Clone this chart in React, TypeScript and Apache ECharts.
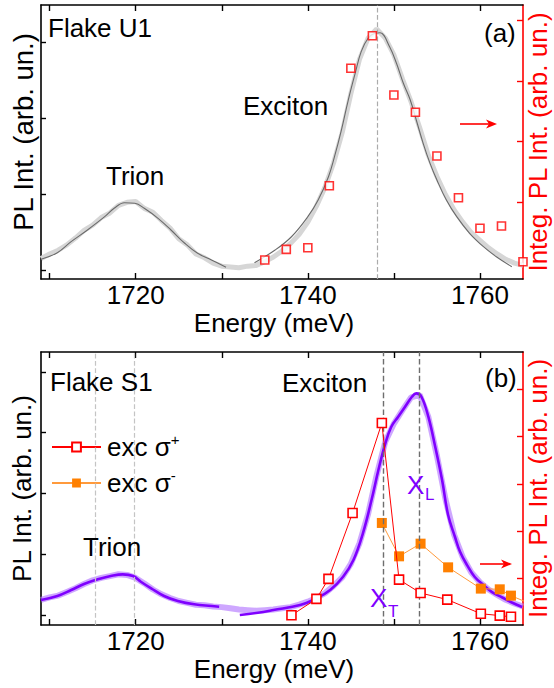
import React, { useEffect, useRef } from 'react';
import * as echarts from 'echarts';

// ---------- Data ----------
const energyGrid = [
  1709, 1710, 1711, 1712, 1713, 1714, 1715, 1716, 1717, 1718, 1719, 1720, 1721, 1722, 1723, 1724, 1725, 1726, 1727,
  1728, 1729, 1730, 1731, 1732, 1733, 1734, 1735, 1736, 1737, 1738, 1739, 1740, 1741, 1742, 1743, 1744, 1745, 1746,
  1747, 1748, 1749, 1750, 1751, 1752, 1753, 1754, 1755, 1756, 1757, 1758, 1759, 1760, 1761, 1762, 1763, 1764, 1765,
];

// Panel (a) – Flake U1 measured PL (grey band)
const u1Measured = [
  0.16, 0.22, 0.27, 0.34, 0.43, 0.53, 0.6, 0.7, 0.76, 0.86, 0.9, 0.91, 0.82, 0.77, 0.66, 0.56, 0.42, 0.34, 0.22,
  0.17, 0.1, 0.06, 0.05, 0.04, 0.06, 0.07, 0.12, 0.18, 0.26, 0.36, 0.48, 0.64, 0.85, 1.1, 1.42, 1.82, 2.33, 2.78,
  3.06, 3.18, 3.06, 2.84, 2.52, 2.22, 1.88, 1.52, 1.24, 1.0, 0.8, 0.64, 0.5, 0.4, 0.3, 0.22, 0.15, 0.1, 0.07,
];

// Panel (a) fits
const u1TrionFitE = [1709.0, 1710.9, 1712.5, 1714.4, 1716.4, 1717.5, 1718.7, 1719.9, 1721.0, 1722.6, 1724.1, 1725.7, 1727.2, 1728.8, 1730.5];
const u1TrionFitV = [0.15, 0.237, 0.382, 0.536, 0.711, 0.821, 0.895, 0.887, 0.821, 0.689, 0.536, 0.361, 0.229, 0.141, 0.045];
const u1ExcFitE = [
  1733.8, 1736.2, 1738.1, 1740.0, 1741.2, 1742.4, 1743.1, 1743.9, 1744.7, 1745.5, 1746.2, 1747.0, 1747.8, 1748.4,
  1749.5, 1750.3, 1751.1, 1751.9, 1752.6, 1753.4, 1754.2, 1755.0, 1756.1, 1757.3, 1758.8, 1760.4, 1761.9, 1763.7,
];
const u1ExcFitV = [
  0.105, 0.272, 0.447, 0.711, 0.93, 1.237, 1.5, 1.851, 2.246, 2.597, 2.882, 3.058, 3.124, 3.13, 2.947, 2.729, 2.466,
  2.246, 1.983, 1.676, 1.413, 1.193, 0.93, 0.711, 0.492, 0.316, 0.184, 0.053,
];

// Panel (a) integrated PL (right axis)
const u1IntE = [1735, 1737.5, 1740, 1742.5, 1745, 1747.5, 1750, 1752.5, 1755, 1757.5, 1760, 1762.5, 1765];
const u1IntV = [0.054, 0.23, 0.257, 1.276, 3.207, 3.743, 2.768, 2.484, 1.765, 1.079, 0.576, 0.613, 0.026];
const u1Marker = [1748.1];

// Panel (b) – Flake S1 measured PL (light purple band)
const s1Measured = [
  0.25, 0.29, 0.32, 0.38, 0.44, 0.51, 0.57, 0.61, 0.64, 0.67, 0.66, 0.61, 0.52, 0.42, 0.34, 0.28, 0.23, 0.2, 0.17,
  0.16, 0.14, 0.13, 0.11, 0.09, 0.08, 0.07, 0.08, 0.09, 0.11, 0.13, 0.17, 0.22, 0.28, 0.36, 0.48, 0.62, 0.84, 1.18,
  1.66, 2.3, 2.85, 3.15, 3.37, 3.58, 3.62, 3.26, 2.62, 1.9, 1.32, 0.95, 0.7, 0.54, 0.42, 0.33, 0.25, 0.19, 0.14,
];

// Panel (b) fits
const s1TrionFitE = [1709.0, 1710.9, 1712.5, 1714.0, 1715.6, 1717.1, 1718.5, 1719.7, 1720.6, 1721.8, 1723.3, 1724.9, 1726.8, 1729.7];
const s1TrionFitV = [0.247, 0.3125, 0.411, 0.51, 0.587, 0.641, 0.669, 0.641, 0.548, 0.439, 0.3125, 0.23, 0.176, 0.137];
const s1ExcFitE = [
  1732.1, 1734.2, 1736.0, 1739.1, 1741.0, 1742.6, 1744.1, 1745.3, 1746.4, 1747.4, 1748.2, 1749.0, 1749.7, 1750.5,
  1751.3, 1752.1, 1752.6, 1753.2, 1754.0, 1754.8, 1755.6, 1756.3, 1757.1, 1757.7, 1758.5, 1759.4, 1760.4, 1761.4,
  1762.6, 1763.7, 1764.9,
];
const s1ExcFitV = [
  0.0, 0.038, 0.082, 0.164, 0.275, 0.411, 0.63, 0.905, 1.344, 1.891, 2.385, 2.82, 3.097, 3.262, 3.426, 3.59, 3.646,
  3.59, 3.262, 2.768, 2.22, 1.645, 1.283, 1.036, 0.822, 0.625, 0.493, 0.378, 0.288, 0.206, 0.132,
];

// Panel (b) integrated PL for the two excitation helicities (right axis)
const sigmaPlusE = [1738.1, 1741.0, 1742.4, 1745.2, 1748.6, 1750.6, 1753.1, 1756.2, 1760.1, 1762.3, 1763.6];
const sigmaPlusV = [0.206, 0.554, 0.979, 2.38, 4.29, 0.964, 0.68, 0.54, 0.24, 0.2, 0.175];
const sigmaMinusE = [1748.6, 1750.6, 1753.1, 1756.3, 1760.1, 1762.3, 1763.6, 1766.5];
const sigmaMinusV = [2.168, 1.459, 1.728, 1.225, 0.773, 0.758, 0.624, 0.4];
const s1TrionMarkers = [1715.3, 1719.8];
const s1ExcMarkers = [1748.8, 1752.9];

const xTicks = [1710, 1720, 1730, 1740, 1750, 1760];
const xLabels = [1720, 1740, 1760];

// ---------- Styling helpers ----------
const FONT = '"Liberation Sans", Arial, Helvetica, sans-serif';
const RED = '#ff0000';
const ORANGE = '#ff8000';
const PURPLE = '#7f00ff';

const zip = (xs: number[], ys: number[]) => xs.map((x, i) => [x, ys[i]]);

function xAxis(gridIndex: number, position: 'top' | 'bottom', labelled: boolean, margin: number, nameGap: number) {
  return {
    type: 'value',
    gridIndex,
    position,
    min: 1709,
    max: 1765,
    splitLine: { show: false },
    axisLine: { show: true, onZero: false, lineStyle: { color: '#000', width: 1.6 } },
    axisTick: { show: true, inside: true, length: 6, customValues: xTicks, lineStyle: { color: '#000', width: 1.4 } },
    axisLabel: {
      show: labelled,
      customValues: xLabels,
      formatter: (v: number) => String(v),
      color: '#000',
      fontSize: 26,
      lineHeight: 22,
      fontFamily: FONT,
      margin,
    },
    name: labelled ? 'Energy (meV)' : '',
    nameLocation: 'middle',
    nameGap,
    nameTextStyle: { color: '#000', fontSize: 26, lineHeight: 22, fontFamily: FONT, padding: [0, 16, 0, 0] },
  };
}

function yAxis(
  gridIndex: number,
  position: 'left' | 'right',
  min: number,
  max: number,
  ticks: number[],
  name: string,
  color: string,
  nameSize: number,
  nameGap: number,
  namePadding: number[] = [0, 0, 0, 0],
  nameLineHeight?: number,
) {
  return {
    type: 'value',
    gridIndex,
    position,
    min,
    max,
    splitLine: { show: false },
    axisLine: { show: true, onZero: false, lineStyle: { color, width: 1.6 } },
    axisTick: { show: true, inside: true, length: position === 'left' ? 5 : 6, customValues: ticks, lineStyle: { color, width: 1.4 } },
    axisLabel: { show: false, customValues: ticks },
    name,
    nameLocation: 'middle',
    nameRotate: 90,
    nameGap,
    nameTextStyle: { color, fontSize: nameSize, fontFamily: FONT, padding: namePadding, lineHeight: nameLineHeight },
  };
}

function vMarks(values: number[], color: string, width: number) {
  return {
    silent: true,
    symbol: 'none',
    label: { show: false },
    lineStyle: { type: 'dashed', color, width },
    data: values.map((v) => ({ xAxis: v })),
  };
}

function txt(text: string, x: number, y: number, fill = '#000', size = 26) {
  return {
    type: 'text',
    x,
    y,
    z: 100,
    style: { text, fill, fontSize: size, fontFamily: FONT, verticalAlign: 'middle', align: 'left' },
  };
}

function arrow(x1: number, x2: number, y: number) {
  return [
    { type: 'line', z: 100, shape: { x1, y1: y, x2: x2 - 6, y2: y }, style: { stroke: RED, lineWidth: 1.6 } },
    {
      type: 'polygon',
      z: 100,
      shape: { points: [[x2, y], [x2 - 11, y - 4.5], [x2 - 8, y], [x2 - 11, y + 4.5]] },
      style: { fill: RED },
    },
  ];
}

const option = {
  animation: false,
  backgroundColor: '#fff',
  textStyle: { fontFamily: FONT },
  grid: [
    { left: 41, top: 5, width: 482, height: 274, containLabel: false, outerBoundsMode: 'none' },
    { left: 41, top: 352, width: 482, height: 273, containLabel: false, outerBoundsMode: 'none' },
  ],
  xAxis: [
    xAxis(0, 'bottom', true, 5, 33),
    xAxis(0, 'top', false, 5, 0),
    xAxis(1, 'bottom', true, 5, 32.5),
    xAxis(1, 'top', false, 5, 0),
  ],
  yAxis: [
    yAxis(0, 'left', -0.109, 3.496, [0, 1, 2, 3], 'PL Int. (arb. un.)', '#000', 27.5, 4, [0, 0, 0, 20]),
    yAxis(0, 'right', -0.258, 4.248, [0, 1, 2, 3, 4], 'Integ. PL Int. (arb. un.)', RED, 26, 4, [0, 0, 0, 0], 22),
    yAxis(1, 'left', -0.164, 4.326, [0, 1, 2, 3, 4], 'PL Int. (arb. un.)', '#000', 26, 6),
    yAxis(1, 'right', 0, 5.8, [1, 2, 3, 4, 5], 'Integ. PL Int. (arb. un.)', RED, 26, 4, [0, 0, 0, 0], 22),
  ],
  legend: {
    orient: 'vertical',
    left: 46,
    top: 427,
    itemWidth: 49,
    itemHeight: 11,
    itemGap: 8,
    selectedMode: false,
    data: ['exc σ+', 'exc σ-'],
    formatter: (name: string) => (name === 'exc σ+' ? '{m|exc σ}{p|+}' : '{m|exc σ}{p|-}'),
    textStyle: {
      fontSize: 26,
      fontFamily: FONT,
      color: '#000',
      rich: {
        m: { fontSize: 26, fontFamily: FONT, color: '#000', lineHeight: 30, padding: [0, 0, 0, 1] },
        p: { fontSize: 15, fontFamily: FONT, color: '#000', lineHeight: 15, verticalAlign: 'top' },
      },
    },
  },
  series: [
    // ---- Panel (a) ----
    {
      type: 'line',
      xAxisIndex: 0,
      yAxisIndex: 0,
      data: zip(energyGrid, u1Measured),
      showSymbol: false,
      lineStyle: { color: '#d6d6d6', width: 5 },
      z: 1,
      markLine: vMarks(u1Marker, '#ababab', 1.2),
    },
    {
      type: 'line',
      xAxisIndex: 0,
      yAxisIndex: 0,
      data: zip(u1TrionFitE, u1TrionFitV),
      smooth: 0.4,
      showSymbol: false,
      lineStyle: { color: '#6a6a6a', width: 1.1 },
      z: 2,
    },
    {
      type: 'line',
      xAxisIndex: 0,
      yAxisIndex: 0,
      data: zip(u1ExcFitE, u1ExcFitV),
      smooth: 0.4,
      showSymbol: false,
      lineStyle: { color: '#6a6a6a', width: 1.1 },
      z: 2,
    },
    {
      type: 'scatter',
      xAxisIndex: 0,
      yAxisIndex: 1,
      data: zip(u1IntE, u1IntV),
      symbol: 'rect',
      symbolSize: 8,
      itemStyle: { color: '#fff', borderColor: RED, borderWidth: 1.6 },
      z: 5,
    },
    // ---- Panel (b) ----
    {
      type: 'line',
      xAxisIndex: 2,
      yAxisIndex: 2,
      data: zip(energyGrid, s1Measured),
      showSymbol: false,
      lineStyle: { color: 'rgba(185,130,255,0.7)', width: 6 },
      z: 1,
      markLine: vMarks(s1TrionMarkers, '#c4c4c4', 1.2),
    },
    {
      type: 'line',
      xAxisIndex: 2,
      yAxisIndex: 2,
      data: zip(s1TrionFitE, s1TrionFitV),
      smooth: 0.4,
      showSymbol: false,
      lineStyle: { color: PURPLE, width: 2.6 },
      z: 2,
    },
    {
      type: 'line',
      xAxisIndex: 2,
      yAxisIndex: 2,
      data: zip(s1ExcFitE, s1ExcFitV),
      smooth: 0.4,
      showSymbol: false,
      lineStyle: { color: PURPLE, width: 2.6 },
      z: 2,
      markLine: vMarks(s1ExcMarkers, '#6e6e6e', 1.4),
    },
    {
      name: 'exc σ+',
      type: 'line',
      xAxisIndex: 2,
      yAxisIndex: 3,
      data: zip(sigmaPlusE, sigmaPlusV),
      symbol: 'rect',
      symbolSize: 9,
      showSymbol: true,
      lineStyle: { color: RED, width: 1 },
      itemStyle: { color: '#fff', borderColor: RED, borderWidth: 1.6 },
      z: 5,
    },
    {
      name: 'exc σ-',
      type: 'line',
      xAxisIndex: 2,
      yAxisIndex: 3,
      data: zip(sigmaMinusE, sigmaMinusV),
      symbol: 'rect',
      symbolSize: 10,
      showSymbol: true,
      lineStyle: { color: '#ff9a3c', width: 1 },
      itemStyle: { color: ORANGE, borderColor: ORANGE, borderWidth: 0 },
      z: 4,
    },
  ],
  graphic: [
    txt('Flake U1', 48, 28),
    txt('(a)', 484, 33),
    txt('Exciton', 243, 106),
    txt('Trion', 106, 176),
    txt('Flake S1', 50, 382),
    txt('(b)', 485, 378),
    txt('Exciton', 282, 383),
    txt('Trion', 83, 547),
    txt('X', 370, 598, PURPLE, 26),
    txt('T', 388, 611, PURPLE, 17),
    txt('X', 407, 485, PURPLE, 26),
    txt('L', 425, 494, PURPLE, 17),
    ...arrow(460, 497, 124),
    ...arrow(480, 512, 564),
  ],
};

export default function App() {
  const ref = useRef<HTMLDivElement>(null);
  useEffect(() => {
    if (!ref.current) return;
    const chart = echarts.init(ref.current, null, { renderer: 'svg' });
    chart.setOption(option as any);
    return () => chart.dispose();
  }, []);
  return <div ref={ref} style={{ position: 'fixed', left: 0, top: 0, width: 554, height: 688 }} />;
}
